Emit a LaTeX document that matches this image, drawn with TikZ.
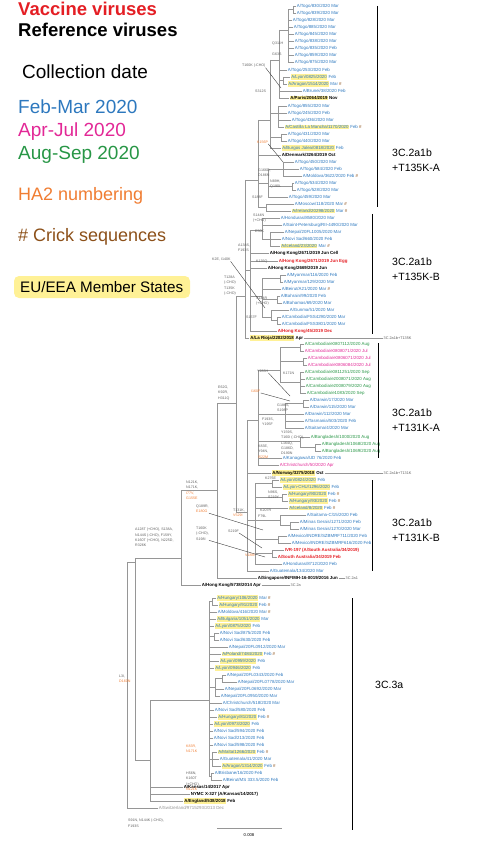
\documentclass[tikz,border=0pt]{standalone}
\usepackage{fontspec}
\setmainfont{Liberation Sans}
\usepackage{xcolor}
\usetikzlibrary{positioning}
\definecolor{vacR}{RGB}{228,30,36}
\definecolor{dFM}{RGB}{45,120,190}
\definecolor{dAJ}{RGB}{226,40,150}
\definecolor{dAS}{RGB}{40,150,70}
\definecolor{haO}{RGB}{240,125,50}
\definecolor{crkB}{RGB}{140,80,25}
\definecolor{euY}{RGB}{255,241,150}
\definecolor{brG}{RGB}{150,150,150}
\definecolor{mutG}{RGB}{95,95,95}
\newcommand{\lfont}{\fontsize{4.4}{4.8}\selectfont}
\newcommand{\mfont}{\fontsize{3.6}{5.2}\selectfont}
\newcommand{\eu}[1]{{\setlength{\fboxsep}{0.5pt}\colorbox{euY}{#1}}}
\newcommand{\ck}{ \textcolor{crkB}{\#}}
\newcommand{\hao}[1]{\textcolor{haO}{#1}}
\newcounter{leafno}
% leaf: parent x, y, tip x, style, text
\newcommand{\lf}[5]{\stepcounter{leafno}\draw[br] (#1,#2) -- (#3,#2) node[lbl,#4] (leaf\theleafno) {#5};}
% inner node: parent x, x, y of stem, top y, bottom y
\newcommand{\nd}[5]{\draw[br] (#1,#3) -- (#2,#3) (#2,#4) -- (#2,#5);}
\tikzset{
  br/.style={draw=brG, line width=0.45pt},
  lbl/.style={anchor=west, inner sep=0.6pt, font=\lfont},
  fm/.style={text=dFM}, aj/.style={text=dAJ}, as/.style={text=dAS},
  rf/.style={text=black, font=\lfont\bfseries},
  vc/.style={text=vacR, font=\lfont\bfseries},
  old/.style={text=brG},
  mut/.style={anchor=north west, inner sep=0pt, font=\mfont, text=mutG, align=left},
  ptr/.style={draw=black!75, line width=0.4pt},
  clbar/.style={draw=black, line width=0.8pt},
  cllab/.style={anchor=west, font=\fontsize{10.5}{14.5}\selectfont, align=left, inner sep=0pt},
  sublab/.style={anchor=west, font=\fontsize{3.8}{4}\selectfont, text=mutG, inner sep=0.5pt},
  leg/.style={anchor=base west, font=\fontsize{18}{20}\selectfont, inner sep=0pt},
}
\begin{document}
\begin{tikzpicture}[x=1pt, y=-1pt]
\useasboundingbox (0,0) rectangle (480,850);
% ===== legend =====
\node[leg, font=\fontsize{18.5}{20}\selectfont\bfseries, text=vacR] (gVac) at (18,16) {Vaccine viruses};
\node[leg, font=\fontsize{18.5}{20}\selectfont\bfseries] (gRef) at (18,37) {Reference viruses};
\node[leg, font=\fontsize{19}{20}\selectfont] (gDate) at (22,79) {Collection date};
\node[leg, font=\fontsize{19}{20}\selectfont, text=dFM] (gFM) at (18,114) {Feb-Mar 2020};
\node[leg, font=\fontsize{19}{20}\selectfont, text=dAJ] (gAJ) at (18,137) {Apr-Jul 2020};
\node[leg, font=\fontsize{19}{20}\selectfont, text=dAS] (gAS) at (18,160) {Aug-Sep 2020};
\node[leg, text=haO] (gHA) at (18,201) {HA2 numbering};
\node[leg, text=crkB] (gCk) at (18,241) {\# Crick sequences};
\fill[euY, rounded corners=5pt] (14,276) rectangle (190,298);
\node[leg, font=\fontsize{15.2}{17}\selectfont] (gEU) at (20,292.5) {EU/EEA Member States};
% ===== 3C.2a1b +T135K-A =====
\nd{279}{288}{30}{9.5}{62}
\nd{288}{293}{9.5}{6}{13}
\lf{293}{6}{296}{fm}{A/Togo/830/2020 Mar}
\lf{293}{13}{296}{fm}{A/Togo/839/2020 Mar}
\lf{288}{20}{292}{fm}{A/Togo/828/2020 Mar}
\lf{288}{27}{293}{fm}{A/Togo/885/2020 Mar}
\lf{288}{34}{294}{fm}{A/Togo/845/2020 Mar}
\lf{288}{41}{294}{fm}{A/Togo/838/2020 Mar}
\lf{288}{48}{294}{fm}{A/Togo/835/2020 Feb}
\lf{288}{55}{294}{fm}{A/Togo/859/2020 Mar}
\lf{288}{62}{294}{fm}{A/Togo/875/2020 Mar}
\nd{270}{279}{60}{30}{98}
\lf{279}{70}{287}{fm}{A/Togo/253/2020 Feb}
\nd{279}{283}{80.5}{77}{84}
\lf{283}{77}{290}{fm}{\eu{A/Lyon/0825/2020} Feb}
\lf{283}{84}{287}{fm}{\eu{A/Aragon/1514/2020} Mar\ck}
\lf{279}{91}{302}{fm}{A/Brunei/38/2020 Feb}
\lf{279}{98}{289}{rf}{\eu{A/Paris/2064/2019} Nov}
\nd{258}{270}{120}{60}{148}
\nd{270}{278}{113}{106}{127}
\lf{278}{106}{287}{fm}{A/Togo/855/2020 Mar}
\lf{278}{113}{287}{fm}{A/Togo/245/2020 Feb}
\lf{278}{120}{291}{fm}{A/Togo/436/2020 Mar}
\lf{278}{127}{284}{fm}{\eu{A/Castilla La Mancha/1170/2020} Feb\ck}
\nd{270}{281}{137.5}{134}{141}
\lf{281}{134}{287}{fm}{A/Togo/431/2020 Mar}
\lf{281}{141}{287}{fm}{A/Togo/440/2020 Mar}
\lf{270}{148}{281}{fm}{\eu{A/Burgos Jalea/0818/2020} Feb}
\nd{245}{258}{180}{120}{207.5}
\lf{258}{155}{281}{rf}{A/Denmark/3264/2019 Oct}
\nd{258}{268}{183}{169}{197}
\nd{268}{283}{169}{162}{176}
\lf{283}{162}{294}{fm}{A/Togo/450/2020 Mar}
\lf{283}{169}{299}{fm}{A/Togo/584/2020 Feb}
\lf{283}{176}{302}{fm}{A/Moldova/3622/2020 Feb\ck}
\nd{268}{292}{186.5}{183}{190}
\lf{292}{183}{294}{fm}{A/Togo/534/2020 Mar}
\lf{292}{190}{296}{fm}{A/Togo/528/2020 Mar}
\lf{268}{197}{288}{fm}{A/Togo/459/2020 Mar}
\nd{258}{266}{207.5}{204}{211}
\lf{266}{204}{294}{fm}{A/Moscow/118/2020 Mar\ck}
\lf{266}{211}{291}{fm}{\eu{A/Ireland/20298/2020} Mar\ck}
% ===== 3C.2a1b +T135K-B =====
\nd{245}{250}{270}{230}{331}
\nd{250}{262}{230}{218}{239}
\lf{262}{218}{280}{fm}{A/Honduras/8580/2020 Mar}
\lf{262}{225}{282}{fm}{A/Saint-Petersburg/RII-4490/2020 Mar}
\nd{262}{270}{239}{232}{246}
\lf{270}{232}{284}{fm}{A/Nepal/20FL1005/2020 Mar}
\lf{270}{239}{281}{fm}{A/Novi Sad/660/2020 Feb}
\lf{270}{246}{280}{fm}{\eu{A/Iceland/23/2020} Mar\ck}
\lf{250}{253}{269}{rf}{A/Hong Kong/2671/2019 Jun Cell}
\lf{250}{261}{278}{vc}{A/Hong Kong/2671/2019 Jun Egg}
\lf{250}{268}{267}{rf}{A/Hong Kong/2669/2019 Jun}
\nd{250}{262}{296}{278.5}{317}
\nd{262}{280}{278.5}{275}{282}
\lf{280}{275}{286}{fm}{A/Myanmar/116/2020 Feb}
\lf{280}{282}{283}{fm}{A/Myanmar/129/2020 Mar}
\lf{262}{289}{281}{fm}{A/Beirut/A21/2020 Mar\ck}
\nd{262}{277}{299.5}{296}{303}
\lf{277}{296}{280}{fm}{A/Bahrain/99/2020 Feb}
\lf{277}{303}{282}{fm}{A/Bahamas/69/2020 Mar}
\nd{262}{271}{317}{310}{320.5}
\lf{271}{310}{289}{fm}{A/Gunma/51/2020 Mar}
\nd{271}{277}{320.5}{317}{324}
\lf{277}{317}{281}{fm}{A/Cambodia/FSS4290/2020 Mar}
\lf{277}{324}{281}{fm}{A/Cambodia/FSS3801/2020 Mar}
\lf{250}{331}{277}{vc}{A/Hong Kong/45/2019 Dec}
\nd{236}{245}{296}{180}{338}
\draw[br] (245,338) -- (249,338) node[lbl,rf] (rioja) {\eu{A/La Rioja/2202/2018} Apr};
% ===== 3C.2a1b +T131K-A =====
\nd{217}{236}{403}{296}{512}
\nd{236}{247}{512}{420}{571}
\nd{247}{258}{420}{370}{465}
\nd{258}{280}{370}{347.5}{382.5}
\nd{280}{300}{347.5}{344}{351}
\lf{300}{344}{304}{as}{A/Cambodia/e0807112/2020 Aug}
\lf{300}{351}{304}{aj}{A/Cambodia/e0808071/2020 Jul}
\nd{280}{303}{361.5}{358}{365}
\lf{303}{358}{307}{aj}{A/Cambodia/e0806071/2020 Jul}
\lf{303}{365}{307}{aj}{A/Cambodia/e0806084/2020 Jul}
\nd{280}{300}{382.5}{372}{393}
\lf{300}{372}{304}{as}{A/Cambodia/e0811251/2020 Sep}
\lf{300}{379}{305}{as}{A/Cambodia/e2008071/2020 Aug}
\lf{300}{386}{305}{as}{A/Cambodia/e2008079/2020 Aug}
\lf{300}{393}{306}{as}{A/Cambodia/e1083/2020 Sep}
\nd{258}{285}{414}{403.5}{428}
\nd{285}{303}{403.5}{400}{407}
\lf{303}{400}{309}{fm}{A/Darwin/17/2020 Mar}
\lf{303}{407}{309}{fm}{A/Darwin/115/2020 Mar}
\lf{285}{414}{304}{fm}{A/Darwin/112/2020 Mar}
\lf{285}{421}{304}{fm}{A/Tasmania/503/2020 Feb}
\lf{285}{428}{304}{fm}{A/Saitama/4/2020 Mar}
\nd{258}{300}{441}{437}{447.5}
\lf{300}{437}{310}{as}{A/Bangladesh/1000/2020 Aug}
\nd{300}{315}{447.5}{444}{451}
\lf{315}{444}{321}{as}{A/Bangladesh/1068/2020 Aug}
\lf{315}{451}{321}{as}{A/Bangladesh/1069/2020 Aug}
\lf{258}{458}{282}{fm}{A/Kanagawa/UD 76/2020 Feb}
\lf{258}{465}{279}{aj}{A/Christchurch/50/2020 Apr}
\draw[br] (247,473) -- (271,473) node[lbl,rf] (norway) {\eu{A/Norway/3275/2018} Oct};
% ===== 3C.2a1b +T131K-B =====
\nd{247}{255}{520}{483.5}{564}
\nd{255}{272}{483.5}{480}{487}
\lf{272}{480}{279}{fm}{\eu{A/Lyon/0824/2020} Feb}
\lf{272}{487}{282}{fm}{\eu{A/Lyon-CHU/1296/2020} Feb}
\nd{255}{282}{497.5}{494}{501}
\lf{282}{494}{287}{fm}{\eu{A/Hungary/90/2020} Feb\ck}
\lf{282}{501}{288}{fm}{\eu{A/Hungary/93/2020} Feb\ck}
\lf{255}{508}{288}{fm}{\eu{A/Iceland/8/2020} Feb\ck}
\nd{255}{280}{520}{515}{525.5}
\lf{280}{515}{306}{fm}{A/Saitama-C/15/2020 Feb}
\nd{280}{290}{525.5}{522}{529}
\lf{290}{522}{299}{fm}{A/Minas Gerais/1271/2020 Feb}
\lf{290}{529}{299}{fm}{A/Minas Gerais/1270/2020 Mar}
\nd{255}{278}{539.5}{536}{543}
\lf{278}{536}{287}{fm}{A/Mexico/INDRE/SZBMRF711/2020 Feb}
\lf{278}{543}{291}{fm}{A/Mexico/INDRE/SZBMRF616/2020 Feb}
\nd{255}{272}{553.5}{550}{557}
\lf{272}{550}{284}{vc}{IVR-197 (A/South Australia/34/2019)}
\lf{272}{557}{277}{vc}{A/South Australia/34/2019 Feb}
\lf{255}{564}{282}{fm}{A/Honduras/8712/2020 Feb}
\lf{247}{571}{269}{fm}{A/Guatemala/134/2020 Mar}
% ===== 3C.2a1 / 3C.2a backbone =====
\nd{181}{217}{490}{403}{578}
\draw[br] (217,578) -- (257,578) node[lbl,rf] (singa) {A/Singapore/INFIMH-16-0019/2016 Jun};
\nd{135}{181}{558}{490}{585}
\draw[br] (181,585) -- (201,585) node[lbl,rf] (hkold) {A/Hong Kong/5738/2014 Apr};
\nd{127}{135}{562}{558}{760}
\draw[br] (127,562) -- (127,808);
\lf{127}{808}{158}{old}{A/Switzerland/9715293/2013 Dec}
% ===== 3C.3a =====
\nd{135}{150}{760}{700}{801}
\lf{150}{787}{183}{rf}{A/Kansas/14/2017 Apr}
\lf{150}{794}{190}{rf}{NYMC X-327 (A/Kansas/14/2017)}
\lf{150}{801}{183}{rf}{\eu{A/England/538/2018} Feb}
\nd{150}{209}{700}{601.5}{776.5}
\nd{209}{212}{601.5}{598}{605}
\lf{212}{598}{216}{fm}{\eu{A/Hungary/106/2020} Mar\ck}
\lf{212}{605}{218}{fm}{\eu{A/Hungary/91/2020} Feb\ck}
\lf{209}{612}{217}{fm}{A/Moldova/416/2020 Mar\ck}
\lf{209}{619}{216}{fm}{\eu{A/Bulgaria/1051/2020} Mar}
\lf{209}{626}{214}{fm}{\eu{A/Lyon/0875/2020} Feb}
\nd{209}{214}{636.5}{633}{640}
\lf{214}{633}{219}{fm}{A/Novi Sad/875/2020 Feb}
\lf{214}{640}{219}{fm}{A/Novi Sad/630/2020 Feb}
\lf{209}{647}{228}{fm}{A/Nepal/20FL0912/2020 Mar}
\lf{209}{654}{221}{fm}{\eu{A/Poland/7484/2020} Feb\ck}
\lf{209}{661}{219}{fm}{\eu{A/Lyon/0959/2020} Feb}
\lf{209}{668}{214}{fm}{\eu{A/Lyon/0946/2020} Feb}
\nd{209}{215}{687}{678.5}{696}
\nd{215}{222}{678.5}{675}{682}
\lf{222}{675}{226}{fm}{A/Nepal/20FL0343/2020 Feb}
\lf{222}{682}{237}{fm}{A/Nepal/20FL0778/2020 Mar}
\lf{215}{689}{224}{fm}{A/Nepal/20FL0692/2020 Mar}
\lf{215}{696}{220}{fm}{A/Nepal/20FL0950/2020 Mar}
\lf{209}{703}{222}{fm}{A/Christchurch/518/2020 Mar}
\lf{209}{710}{214}{fm}{A/Novi Sad/580/2020 Feb}
\lf{209}{717}{217}{fm}{\eu{A/Hungary/81/2020} Feb\ck}
\lf{209}{724}{213}{fm}{\eu{A/Lyon/0973/2020} Feb}
\lf{209}{731}{213}{fm}{A/Novi Sad/594/2020 Feb}
\lf{209}{738}{213}{fm}{A/Novi Sad/213/2020 Feb}
\lf{209}{745}{213}{fm}{A/Novi Sad/598/2020 Feb}
\nd{209}{212}{759}{752}{766}
\lf{212}{752}{217}{fm}{\eu{A/Malta/1266/2020} Feb\ck}
\lf{212}{759}{219}{fm}{A/Guatemala/41/2020 Mar}
\lf{212}{766}{221}{fm}{\eu{A/Aragon/1314/2020} Feb\ck}
\nd{209}{211}{776.5}{773}{780}
\lf{211}{773}{214}{fm}{A/Brisbane/16/2020 Feb}
\lf{211}{780}{222}{fm}{A/Beirut/MS 333.5/2020 Feb}
% ===== amino acid substitutions =====
\node[mut] (mQ311) at (272,42) {Q311H};
\node[mut] (mG63) at (272,53) {G63S};
\node[mut] (mT160) at (242,64) {T160K (-CHO)};
\draw[ptr] (mT160.south east) -- (281,88);
\node[mut] (mS312) at (255,90) {S312S};
\node[mut, text=haO] (mK156) at (257,141) {K156P};
\draw[ptr] (mK156.south east) -- (283,162);
\node[mut] (mG166) at (258,169) {G166D,\\D186N};
\node[mut] (mN89) at (270,180) {N89H,\\Q190L};
\node[mut] (mS188) at (252,196) {S188F};
\node[mut] (mS144) at (253,214) {S144N\\(+CHO)};
\node[mut] (mE50) at (255,230) {E50K};
\node[mut] (mA138) at (238,244) {A138S,\\F193S};
\node[mut] (mK2E) at (212,258) {K2E, I140K};
\draw[ptr] (mK2E.south east) -- (265,308);
\node[mut] (mK135) at (256,260) {K135Q};
\node[mut] (mT128) at (224,276) {T128A\\(-CHO)\\T135K\\(-CHO)};
\node[mut] (mS144R) at (256,297) {S144R\\(+CHO)};
\node[mut] (mS157) at (246,316) {S157F};
\node[mut] (mY283) at (257,370) {Y283H};
\draw[ptr] (mY283.south east) -- (290,396);
\node[mut] (mK171) at (283,372) {K171N};
\node[mut, text=haO] (mI160) at (251,390) {I160F};
\draw[ptr] (mI160.south east) -- (290,401);
\node[mut] (mE62) at (218,386) {E62G,\\K92R,\\H311Q};
\node[mut] (mG186) at (277,404) {G186S,\\S198P};
\node[mut] (mF193) at (262,418) {F193S,\\Y195F};
\node[mut] (mY159) at (281,431) {Y159S,\\T160I (-CHO),\\L164Q,\\G186D,\\D190N};
\node[mut] (mK83) at (258,445) {K83E,\\Y94N,\\\hao{I522M}};
\node[mut] (mN121) at (186,481) {N121K,\\N171K,\\\hao{I77V,}\\\hao{G155E}};
\node[mut] (mK276) at (265,477) {K276E};
\node[mut] (mN96) at (268,491) {N96S,\\S219Y};
\node[mut] (mT131) at (233,509) {T131K,\\\hao{V529I}};
\node[mut] (mK207) at (260,509) {K207R};
\node[mut] (mF79) at (258,515) {F79L};
\node[mut] (mQ189) at (196,505) {Q189R,\\\hao{E180G}};
\draw[ptr] (mQ189.south east) -- (263,530);
\node[mut] (mT160b) at (196,527) {T160K\\(-CHO),\\S198I};
\draw[ptr] (mT160b.south east) -- (265,557);
\node[mut] (mS219) at (228,530) {S219F};
\draw[ptr] (mS219.south east) -- (262,548);
\node[mut, text=haO] (mV18) at (245,554) {V18M};
\node[mut] (mA128) at (135,528) {A128T (+CHO), S138A,\\N144S (-CHO), F159Y,\\K160T (+CHO), N225D,\\R326K};
\node[mut] (mL3I) at (119,675) {L3I,\\\hao{D160N}};
\node[mut, text=haO] (mK83R) at (186,745) {K83R,\\N171K};
\node[mut] (mH56) at (186,772) {H56N,\\K160T\\(+CHO),\\\hao{N121K}};
\node[mut] (mS91) at (128,819) {S91N, N144K (-CHO),\\F193S};
% ===== clade bars =====
\draw[clbar] (377,6) -- (377,207);
\node[cllab] (cA) at (392,160) {3C.2a1b\\+T135K-A};
\draw[clbar] (372,214) -- (372,334);
\node[cllab] (cB) at (392,269) {3C.2a1b\\+T135K-B};
\draw[clbar] (378,343) -- (378,458);
\node[cllab] (cC) at (392,420) {3C.2a1b\\+T131K-A};
\draw[clbar] (372,480) -- (372,571);
\node[cllab] (cD) at (392,530) {3C.2a1b\\+T131K-B};
\draw[clbar] (352,598) -- (352,830);
\node[cllab] (cE) at (375,685) {3C.3a};
% ===== side labels =====
\node[sublab] (sT135) at (383,338) {3C.2a1b+T135K};
\draw[br] (rioja.east) -- (sT135.west);
\node[sublab] (sT131) at (383,473) {3C.2a1b+T131K};
\draw[br] (norway.east) -- (sT131.west);
\node[sublab] (s2a1) at (345,578) {3C.2a1};
\draw[br] (singa.east) -- (s2a1.west);
\node[sublab] (s2a) at (290,585) {3C.2a};
\draw[br] (hkold.east) -- (s2a.west);
% ===== scale bar =====
\draw[br] (217,828) coordinate (sbL) -- (282,828) coordinate (sbR);
\node[sublab, anchor=north, font=\fontsize{4.2}{5}\selectfont, text=black] (sbT) at (249,833) {0.008};
\end{tikzpicture}
\end{document}
